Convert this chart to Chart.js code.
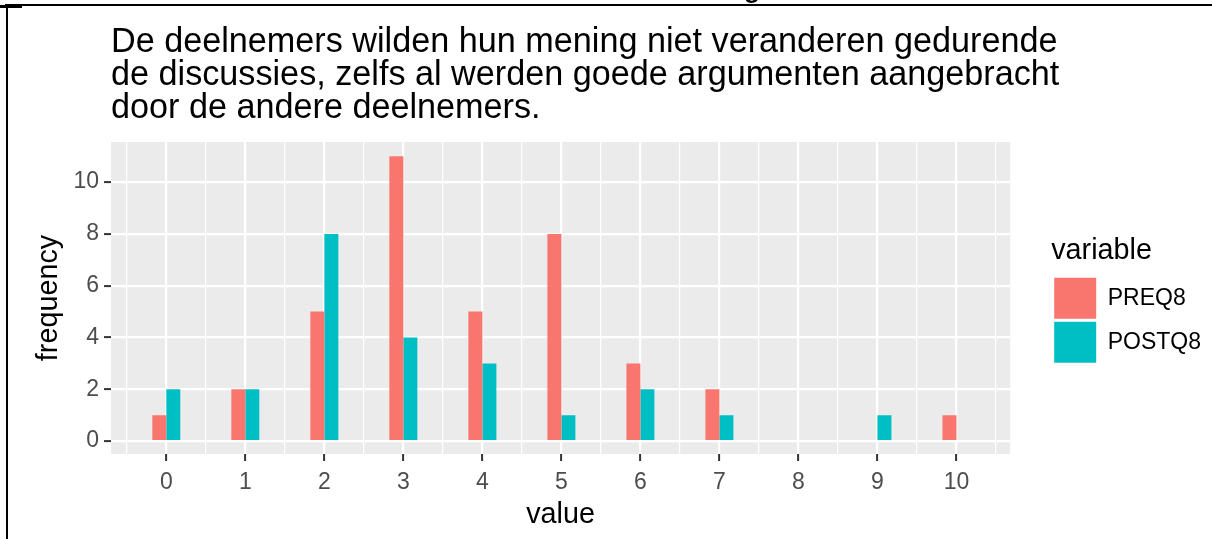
<!DOCTYPE html>
<html>
<head>
<meta charset="utf-8">
<script src="https://cdn.jsdelivr.net/npm/chart.js@4"></script>
<style>
  body { margin: 0; background: #fff; overflow: hidden; }
  #wrap { position: relative; width: 1212px; height: 539px; }
  #wrap canvas { position: absolute; left: 0; top: 0; }
  .frame { position: absolute; background: #000; }
  #cut { position: absolute; left: 744px; top: -25px; font: bold 26px "Liberation Sans", Arial, sans-serif; line-height: 28px; color: #000; }
</style>
</head>
<body>
<div id="wrap">
  <canvas id="chart" width="1212" height="539"></canvas>
  <div id="cut">g</div>
  <div class="frame" style="left:5px; top:4px; width:1207px; height:2px;"></div>
  <div class="frame" style="left:0; top:5px; width:22px; height:3px;"></div>
  <div class="frame" style="left:6px; top:5px; width:2px; height:534px;"></div>
</div>
<script>
// Data
const values = [0, 1, 2, 3, 4, 5, 6, 7, 8, 9, 10];
const preq8 = [1, 2, 5, 11, 5, 8, 3, 2, 0, 0, 1];
const postq8 = [2, 2, 8, 4, 3, 1, 2, 1, 0, 1, 0];
const yTickLabels = [0, 2, 4, 6, 8, 10];
const titleLines = [
    'De deelnemers wilden hun mening niet veranderen gedurende',
    'de discussies, zelfs al werden goede argumenten aangebracht',
    'door de andere deelnemers.'
];

Chart.defaults.font.family = '"Liberation Sans", Arial, sans-serif';
Chart.defaults.color = '#000';

const gridMajor = 2.2;
const gridMinor = 1.2;

// ggplot-like grey panel behind the grid, title aligned with the panel
const panelBackground = {
    id: 'panelBackground',
    afterLayout(chart) {
        const t = chart.titleBlock;
        t.left = chart.chartArea.left;
        t.right = chart.width;
    },
    beforeDraw(chart) {
        const { ctx, chartArea: a } = chart;
        ctx.save();
        ctx.fillStyle = '#EBEBEB';
        ctx.fillRect(a.left, a.top, a.right - a.left, a.bottom - a.top);
        ctx.restore();
    }
};

const ctx = document.getElementById('chart').getContext('2d');
const chart = new Chart(ctx, {
    type: 'bar',
    data: {
        labels: values,
        datasets: [{
            label: 'PREQ8',
            data: preq8,
            backgroundColor: '#F8766D',
            borderWidth: 0
        }, {
            label: 'POSTQ8',
            data: postq8,
            backgroundColor: '#00BFC4',
            borderWidth: 0
        }]
    },
    options: {
        responsive: false,
        animation: false,
        layout: { padding: { top: 0, left: 0, right: 1, bottom: 0 } },
        datasets: {
            bar: { barThickness: 14, grouped: true, inflateAmount: 0 }
        },
        plugins: {
            title: {
                display: true,
                text: titleLines,
                align: 'start',
                fullSize: true,
                color: '#000',
                font: { size: 34.2, weight: 'normal', lineHeight: 0.96 },
                padding: { top: 26, bottom: 17.5 }
            },
            legend: {
                position: 'right',
                align: 'center',
                fullSize: false,
                title: {
                    display: true,
                    text: 'variable',
                    position: 'start',
                    color: '#000',
                    font: { size: 28.75 },
                    padding: { top: 6, bottom: 4 }
                },
                labels: {
                    boxWidth: 42,
                    boxHeight: 41,
                    padding: 3,
                    color: '#000',
                    font: { size: 23 }
                }
            },
            tooltip: { enabled: false }
        },
        scales: {
            x: {
                type: 'linear',
                min: -0.7,
                max: 10.68,
                offset: false,
                border: { display: false },
                grid: {
                    offset: false,
                    color: '#FFFFFF',
                    lineWidth: c => Number.isInteger(c.tick.value) ? gridMajor : gridMinor,
                    tickColor: c => values.includes(c.tick.value) ? '#333333' : 'rgba(0,0,0,0)',
                    tickWidth: 2,
                    tickLength: 7
                },
                ticks: {
                    stepSize: 0.5,
                    includeBounds: false,
                    autoSkip: false,
                    maxRotation: 0,
                    padding: 8,
                    color: '#4D4D4D',
                    font: { size: 23 },
                    callback: v => values.includes(v) ? String(v) : ''
                },
                title: {
                    display: true,
                    text: 'value',
                    color: '#000',
                    font: { size: 28.75 },
                    padding: { top: 0, bottom: 7 }
                },
                afterFit: s => { s.height = 85; }
            },
            y: {
                min: -0.5,
                max: 11.55,
                border: { display: false },
                grid: {
                    color: '#FFFFFF',
                    lineWidth: c => c.tick.value % 2 === 0 ? gridMajor : gridMinor,
                    tickColor: c => yTickLabels.includes(c.tick.value) ? '#333333' : 'rgba(0,0,0,0)',
                    tickWidth: 2,
                    tickLength: 7
                },
                ticks: {
                    stepSize: 1,
                    includeBounds: false,
                    padding: 5,
                    color: '#4D4D4D',
                    font: { size: 23 },
                    callback: v => yTickLabels.includes(v) ? String(v) : ''
                },
                title: {
                    display: true,
                    text: 'frequency',
                    color: '#000',
                    font: { size: 28.75 },
                    padding: { top: 32, bottom: 0 }
                },
                afterFit: s => { s.width = 111; }
            },
            // empty spacer between panel and legend
            gap: {
                type: 'linear',
                position: 'right',
                border: { display: false },
                grid: { display: false },
                ticks: { display: false },
                afterFit: s => { s.width = 41; }
            }
        }
    },
    plugins: [panelBackground]
});
</script>
</body>
</html>
